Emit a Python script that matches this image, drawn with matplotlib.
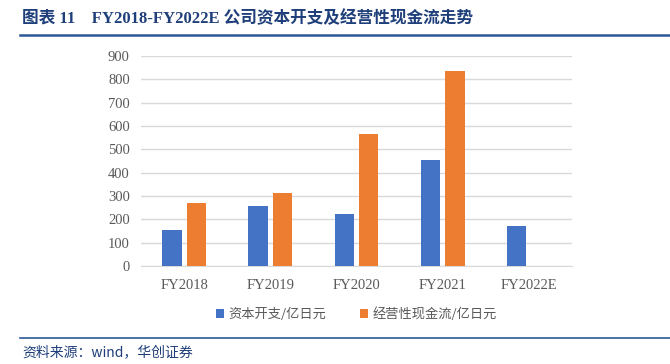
import matplotlib
matplotlib.use("Agg")
import matplotlib.pyplot as plt
import numpy as np
from matplotlib.lines import Line2D

categories = ["FY2018", "FY2019", "FY2020", "FY2021", "FY2022E"]
capex = [153, 259, 223, 456, 170]
op_cf = [272, 312, 565, 835, np.nan]
series_names = ["资本开支/亿日元", "经营性现金流/亿日元"]
yticks = [0, 100, 200, 300, 400, 500, 600, 700, 800, 900]

title_text = "图表 11    FY2018-FY2022E 公司资本开支及经营性现金流走势"
source_text = "资料来源：wind，华创证券"

fig = plt.figure(figsize=(6.7, 3.64), dpi=100)
ax = fig.add_axes([0.2104, 0.2692, 0.6433, 0.5768])

x = np.arange(len(categories))
w = 0.225
off = 0.141
ax.bar(x - off, capex, width=w, color="#4472C4", label=series_names[0], zorder=3)
ax.bar(x + off, op_cf, width=w, color="#ED7D31", label=series_names[1], zorder=3)

ax.set_xlim(-0.5, len(categories) - 0.5)
ax.set_ylim(0, 900)
ax.set_yticks(yticks)
ax.set_xticks(x)
ax.set_xticklabels(categories)
ax.grid(axis="y", color="#D9D9D9", linewidth=1, zorder=0)
for s in ["top", "right", "left"]:
    ax.spines[s].set_visible(False)
ax.spines["bottom"].set_color("#D9D9D9")
ax.tick_params(axis="both", length=0, labelsize=10.5, labelcolor="#595959", pad=8)
ax.tick_params(axis="x", pad=9)
for lab in ax.get_xticklabels() + ax.get_yticklabels():
    lab.set_family(["Liberation Serif", "Noto Sans CJK SC"])

leg = ax.legend(loc="upper center", bbox_to_anchor=(0.5, -0.14), ncol=2, frameon=False,
                handlelength=0.6, handleheight=0.6, columnspacing=2.5, handletextpad=0.4,
                prop={"family": ["Noto Sans CJK SC"], "size": 9.5})
for t in leg.get_texts():
    t.set_color("#595959")

title_color = "#1F3F7A"
fig.text(0.033, 0.948, title_text, fontsize=12, fontweight="bold", color=title_color,
         family=["Liberation Serif", "Noto Sans CJK SC"], va="center", ha="left")
fig.add_artist(Line2D([0.03, 1.0], [0.903, 0.903], color="#2B5797", linewidth=1.8,
                      transform=fig.transFigure))
fig.add_artist(Line2D([0.03, 1.0], [0.071, 0.071], color="#2B5797", linewidth=1.2,
                      transform=fig.transFigure))
fig.text(0.033, 0.033, source_text, fontsize=10, style="italic", color=title_color,
         family=["Noto Sans CJK SC", "Liberation Serif"], va="center", ha="left")

fig.savefig("out.png", dpi=100)
